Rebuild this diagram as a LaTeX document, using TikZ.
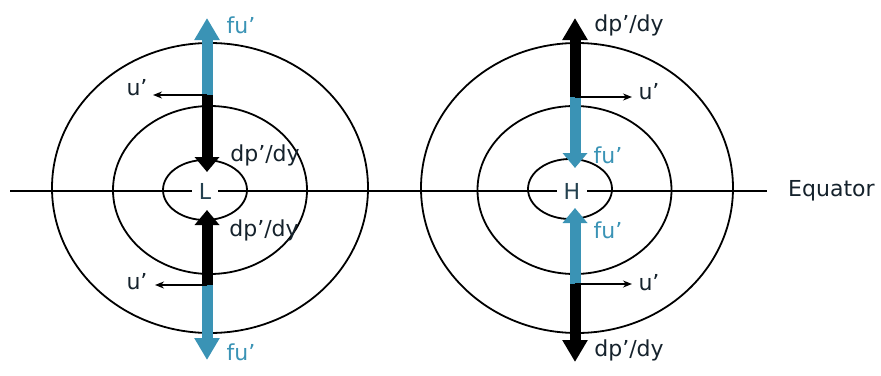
\documentclass[tikz,border=0pt]{standalone}
\usepackage{fontspec}
\setmainfont{DejaVu Sans}
\usetikzlibrary{arrows.meta}
\definecolor{fublue}{HTML}{3A93B5}
\definecolor{txtdark}{HTML}{15222C}
\definecolor{lhcol}{HTML}{24414F}
\tikzset{
  iso/.style={line width=1.8pt, draw=black},
  bigblue/.style={line width=11pt, draw=fublue, -{Triangle[length=22pt,width=24pt]}},
  bigblack/.style={line width=11pt, draw=black, -{Triangle[length=22pt,width=24pt]}},
  inblue/.style={line width=11pt, draw=fublue, -{Triangle[length=15pt,width=24pt]}},
  inblack/.style={line width=11pt, draw=black, -{Triangle[length=15pt,width=24pt]}},
  wind/.style={line width=1.5pt, draw=black, -{Stealth[length=9pt,width=7pt]}},
  lbl/.style={inner sep=0pt, font=\fontsize{22}{24}\selectfont, text=txtdark},
  bluelbl/.style={lbl, text=fublue},
  centre/.style={inner xsep=7pt, inner ysep=3pt, fill=white, font=\fontsize{22}{24}\selectfont, text=lhcol},
}
\begin{document}
\begin{tikzpicture}[x=1pt,y=-1pt]
  \useasboundingbox (0,0) rectangle (881,375);
  % equator
  \coordinate (eqL) at (10,191);
  \coordinate (eqR) at (767,191);
  \draw[iso] (eqL) -- (eqR);
  \node[lbl, anchor=west] (eq) at (788,191) {Equator};
  % isobars left
  \draw[iso] (210,188) ellipse [x radius=158pt, y radius=145pt];
  \draw[iso] (210,190) ellipse [x radius=97pt, y radius=84pt];
  \draw[iso] (205,190) ellipse [x radius=42pt, y radius=30pt];
  % isobars right
  \draw[iso] (577,188) ellipse [x radius=156pt, y radius=145pt];
  \draw[iso] (574.5,190) ellipse [x radius=97pt, y radius=84pt];
  \draw[iso] (570,189) ellipse [x radius=42pt, y radius=30pt];
  % centres
  \node[centre] (L) at (205,191) {L};
  \node[centre] (H) at (572,191) {H};
  % left arrows
  \coordinate (Ltop) at (207,18);
  \coordinate (Lj1) at (207,95);
  \coordinate (Lin1) at (207,172);
  \coordinate (Lin2) at (207,210);
  \coordinate (Lj2) at (207,285);
  \coordinate (Lbot) at (207,360);
  \coordinate (Lu1) at (153,95);
  \coordinate (Lu2) at (155,285);
  \draw[bigblue] (Lj1) -- (Ltop);
  \draw[inblack] (Lj1) -- (Lin1);
  \draw[inblack] (Lj2) -- (Lin2);
  \draw[bigblue] (Lj2) -- (Lbot);
  \draw[wind] (Lj1) -- (Lu1);
  \draw[wind] (Lj2) -- (Lu2);
  % right arrows
  \coordinate (Rtop) at (575,18);
  \coordinate (Rj1) at (575,97);
  \coordinate (Rin1) at (575,168);
  \coordinate (Rin2) at (575,208);
  \coordinate (Rj2) at (575,284);
  \coordinate (Rbot) at (575,362);
  \coordinate (Ru1) at (632,97);
  \coordinate (Ru2) at (632,284);
  \draw[bigblack] (Rj1) -- (Rtop);
  \draw[inblue] (Rj1) -- (Rin1);
  \draw[inblue] (Rj2) -- (Rin2);
  \draw[bigblack] (Rj2) -- (Rbot);
  \draw[wind] (Rj1) -- (Ru1);
  \draw[wind] (Rj2) -- (Ru2);
  % left labels
  \node[bluelbl] (Lfu1) at (241,25) {fu’};
  \node[lbl] (Lup1) at (137,88) {u’};
  \node[lbl] (Ldp1) at (265,155) {dp’/dy};
  \node[lbl] (Ldp2) at (264,230) {dp’/dy};
  \node[lbl] (Lup2) at (137,282) {u’};
  \node[bluelbl] (Lfu2) at (241,352) {fu’};
  % right labels
  \node[lbl] (Rdp1) at (629,25) {dp’/dy};
  \node[lbl] (Rup1) at (649,92) {u’};
  \node[bluelbl] (Rfu1) at (608,155) {fu’};
  \node[bluelbl] (Rfu2) at (608,230) {fu’};
  \node[lbl] (Rup2) at (649,283) {u’};
  \node[lbl] (Rdp2) at (629,350) {dp’/dy};
\end{tikzpicture}
\end{document}
